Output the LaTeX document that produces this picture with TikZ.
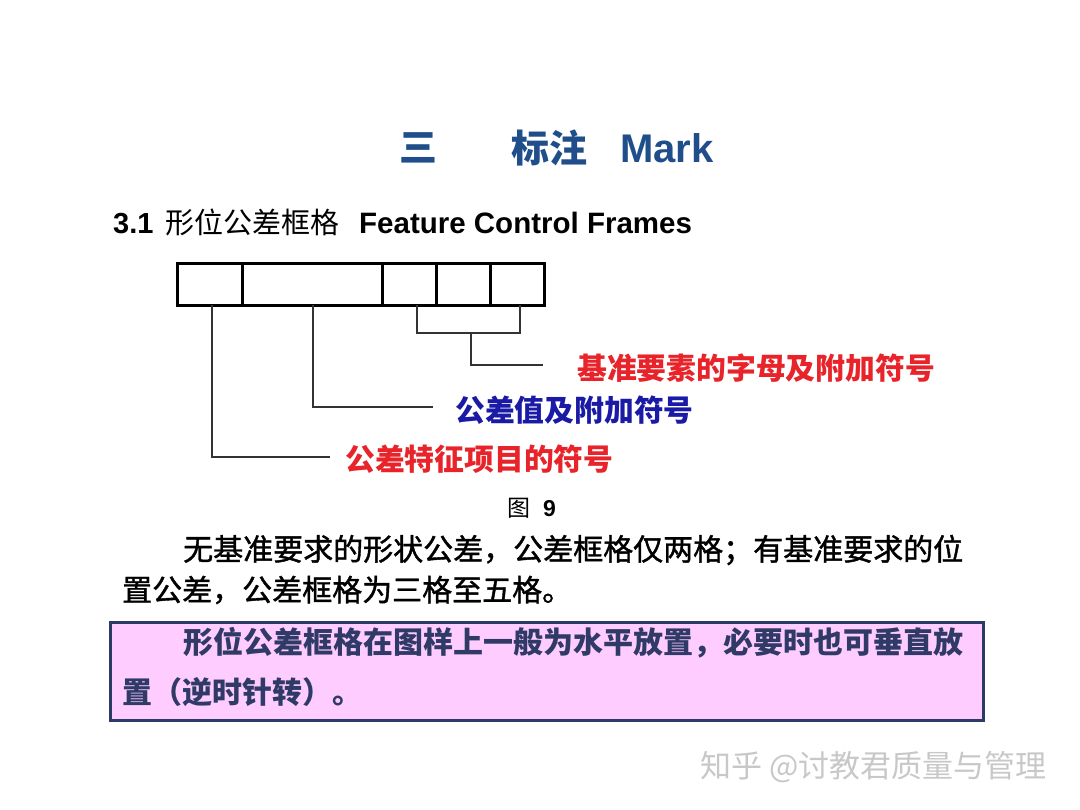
\documentclass[tikz,border=0pt]{standalone}
\usepackage{fontspec}
\setmainfont{Liberation Sans}
\newfontfamily\cjk{Noto Sans CJK SC}
\newfontfamily\cjkm{Noto Sans CJK SC}[FakeBold=1.3]
\definecolor{titleblue}{HTML}{1F4E8A}
\definecolor{labred}{HTML}{E8242A}
\definecolor{labblue}{HTML}{1A1AA6}
\definecolor{boxfill}{HTML}{FFCCFF}
\definecolor{boxline}{HTML}{2B3A67}
\definecolor{boxtext}{HTML}{2F3B66}
\definecolor{wm}{HTML}{C8C8C8}
\begin{document}
\begin{tikzpicture}[x=1pt,y=-1pt,
  txt/.style={inner sep=0pt,anchor=west},
  btxt/.style={inner sep=0pt,anchor=base west},
  cell/.style={draw,line width=2.6pt,minimum height=42pt,inner sep=0pt,anchor=north west},
  conn/.style={draw=black!80,line width=1.1pt},
  lab/.style={txt,font=\cjk\bfseries\fontsize{29.8}{34}\selectfont},
  para/.style={txt,font=\cjkm\fontsize{30}{36}\selectfont}]
\useasboundingbox[fill=white] (0,0) rectangle (1080,810);
% title
\node[txt,text=titleblue,font=\cjk\bfseries\fontsize{38}{44}\selectfont] (t1) at (399,148) {三};
\node[txt,text=titleblue,font=\cjk\bfseries\fontsize{38}{44}\selectfont] (t2) at (511,148) {标注};
\node[txt,text=titleblue,font=\bfseries\fontsize{40}{46}\selectfont] (t3) at (620,148) {Mark};
% subtitle
\node[btxt,font=\bfseries\fontsize{29}{33}\selectfont] (sub1) at (113,234) {3.1};
\node[btxt,font=\cjk\fontsize{29}{33}\selectfont] (sub2) at (165,234) {形位公差框格};
\node[btxt,font=\bfseries\fontsize{29.5}{33}\selectfont] (sub3) at (359,234) {Feature Control Frames};
% frame cells
\node[cell,minimum width=65pt] (c1) at (176,262) {};
\node[cell,minimum width=140pt] (c2) at (241,262) {};
\node[cell,minimum width=54pt] (c3) at (381,262) {};
\node[cell,minimum width=54pt] (c4) at (435,262) {};
\node[cell,minimum width=54pt] (c5) at (489,262) {};
% labels
\node[lab,text=labred] (l3) at (577,368) {基准要素的字母及附加符号};
\node[lab,text=labblue] (l2) at (455,410) {公差值及附加符号};
\node[lab,text=labred] (l1) at (345,459) {公差特征项目的符号};
% connector coordinates
\coordinate (a1) at (212,305);
\coordinate (a2) at (313,305);
\coordinate (b1) at (417,305);
\coordinate (b2) at (520,305);
\coordinate (bm) at (471,333);
% connectors
\draw[conn] (a1) |- (330,457);
\draw[conn] (a2) |- (433,407);
\draw[conn] (b1) |- (b2 |- bm) -- (b2);
\draw[conn] (bm) |- (543,365);
% figure caption
\node[btxt,font=\cjk\fontsize{23}{27}\selectfont] (fig1) at (507,516) {图};
\node[btxt,font=\bfseries\fontsize{23}{27}\selectfont] (fig2) at (543,516) {9};
% paragraph
\node[para] (p1) at (183,550) {无基准要求的形状公差，公差框格仅两格；有基准要求的位};
\node[para] (p2) at (122,590) {置公差，公差框格为三格至五格。};
% pink box
\draw[fill=boxfill,draw=boxline,line width=3pt] (110,622) rectangle (983,720);
\node[txt,text=boxtext,font=\cjk\bfseries\fontsize{30}{36}\selectfont] (q1) at (183,643) {形位公差框格在图样上一般为水平放置，必要时也可垂直放};
\node[txt,text=boxtext,font=\cjk\bfseries\fontsize{30}{36}\selectfont] (q2) at (122,692) {置（逆时针转）。};
% watermark
\node[txt,text=wm,font=\cjk\fontsize{31}{36}\selectfont] (wmk) at (700,767) {知乎 @讨教君质量与管理};
\end{tikzpicture}
\end{document}
